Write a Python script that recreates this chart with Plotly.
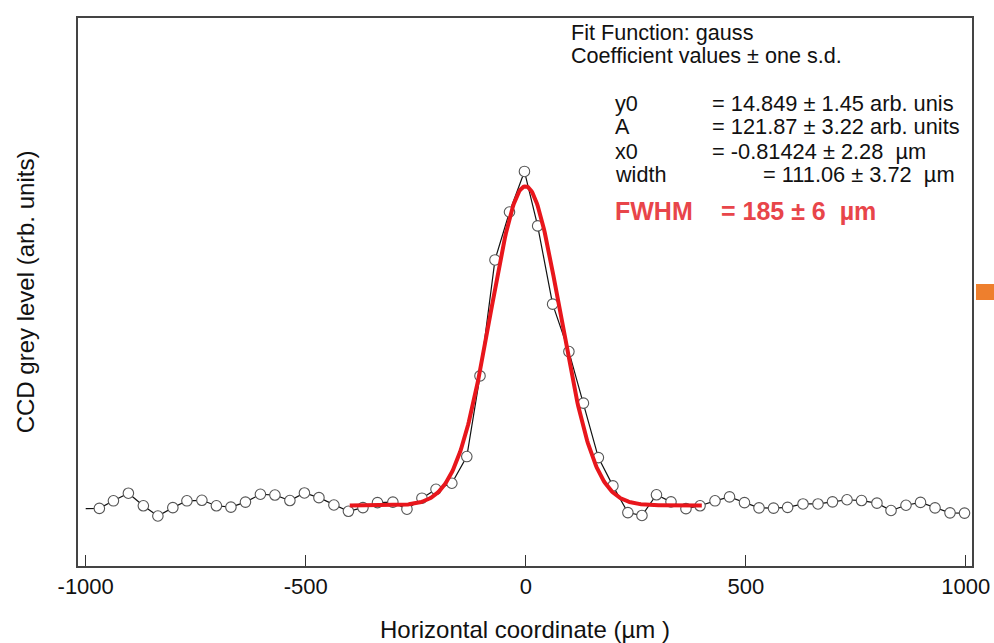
import numpy as np
import plotly.graph_objects as go

# ---- data ----
x_um = [-969, -937, -903, -869, -836, -802, -770, -736, -703, -670,
        -637, -603, -570, -536, -503, -470, -436, -403, -370, -337,
        -302, -270, -236, -204, -168, -134, -104, -70, -37, -3,
        27, 61, 98, 131, 165, 198, 232, 264, 297, 330,
        364, 396, 430, 463, 497, 530, 563, 595, 630, 664,
        697, 730, 763, 798, 830, 864, 897, 930, 964, 997]
grey = [13.7, 16.6, 19.5, 14.7, 10.8, 14.0, 16.6, 16.8, 14.7, 14.2,
        16.1, 19.1, 18.8, 16.7, 19.6, 17.8, 15.0, 12.6, 14.0, 15.9,
        16.1, 13.4, 17.6, 21.0, 23.3, 33.5, 64.3, 108.6, 126.9, 142.4,
        121.6, 91.7, 73.6, 53.9, 33.1, 22.3, 12.1, 11.0, 18.9, 16.2,
        13.6, 14.7, 16.6, 18.1, 15.9, 13.9, 13.8, 14.1, 15.4, 15.4,
        16.2, 17.0, 16.7, 15.7, 12.9, 14.9, 16.0, 13.9, 12.0, 11.9]
lead_x = [-1000]      # line segment entering from the left (no marker)
lead_y = [13.6]

# gauss fit coefficients (from the figure)
fit_y0, fit_A, fit_x0, fit_width = 14.849, 121.87, -0.81424, 111.06
fit_range = [-400, 400]
xticks = [-1000, -500, 0, 500, 1000]

fit_x = np.linspace(fit_range[0], fit_range[1], 400)
fit_y = fit_y0 + fit_A * np.exp(-((fit_x - fit_x0) / fit_width) ** 2)

FONT = "Liberation Sans, Arial, Helvetica, sans-serif"
W, H = 994, 643
L, R, T, B = 78, 972, 18, 566


def px(xp):
    return (xp - L) / (R - L)


def py(yp):
    return (B - yp) / (B - T)


fig = go.Figure()
fig.add_trace(go.Scatter(x=lead_x + x_um, y=lead_y + grey, mode="lines",
                         line=dict(color="#111111", width=1.2),
                         hoverinfo="skip", showlegend=False))
fig.add_trace(go.Scatter(x=x_um, y=grey, mode="markers",
                         marker=dict(size=10.5, color="white", symbol="circle",
                                     line=dict(color="#555555", width=1.1)),
                         showlegend=False))
fig.add_trace(go.Scatter(x=fit_x, y=fit_y, mode="lines",
                         line=dict(color="#e8161c", width=4),
                         showlegend=False))

ann = []


def txt(xp, yp, s, size=21.6, color="#111111", bold=False):
    if bold:
        s = "<b>" + s + "</b>"
    ann.append(dict(x=px(xp), y=py(yp), xref="paper", yref="paper",
                    xanchor="left", yanchor="middle", text=s, showarrow=False,
                    borderpad=0,
                    font=dict(family=FONT, size=size, color=color)))


NB = "\u00a0"
txt(570, 32, "Fit Function: gauss")
txt(570, 56, "Coefficient values ± one s.d.")
txt(614, 103, "y0")
txt(614, 127, "A")
txt(614, 151, "x0")
txt(614, 175, "width")
txt(711, 103, "= 14.849 ± 1.45 arb. unis", size=21.8)
txt(711, 127, "= 121.87 ± 3.22 arb. units", size=21.8)
txt(711, 151, "= -0.81424 ± 2.28" + NB + NB + "µm", size=21.8)
txt(762, 175, "= 111.06 ± 3.72" + NB + NB + "µm", size=21.8)
txt(614, 211, "FWHM", size=25, color="#e8454a", bold=True)
txt(720, 211, "= 185 ± 6" + NB + NB + "µm", size=25, color="#e8454a",
    bold=True)

fig.update_layout(
    width=W, height=H,
    margin=dict(l=L, r=W - R, t=T, b=H - B, autoexpand=False),
    paper_bgcolor="white", plot_bgcolor="white",
    annotations=ann,
    shapes=[dict(type="rect", xref="paper", yref="paper",
                 x0=px(976), x1=px(994), y0=py(300), y1=py(284),
                 fillcolor="#ee7f2d", line=dict(width=0))],
    xaxis=dict(range=[-1017.5, 1014], tickvals=xticks,
               ticktext=[str(v) for v in xticks], automargin=False,
               ticks="inside", ticklen=11, tickwidth=1.3, tickcolor="#333333",
               showgrid=False, zeroline=False,
               showline=True, linewidth=1.8, linecolor="#444444", mirror=True,
               tickfont=dict(family=FONT, size=22, color="#111111"),
               title=dict(text="Horizontal coordinate (µm )", standoff=23,
                          font=dict(family=FONT, size=24, color="#111111"))),
    yaxis=dict(range=[-8.3, 201], showticklabels=False, ticks="",
               automargin=False,
               showgrid=False, zeroline=False,
               showline=True, linewidth=1.8, linecolor="#444444", mirror=True,
               title=dict(text="CCD grey level (arb. units)", standoff=35,
                          font=dict(family=FONT, size=24, color="#111111"))),
)

fig.write_html("out.html")
